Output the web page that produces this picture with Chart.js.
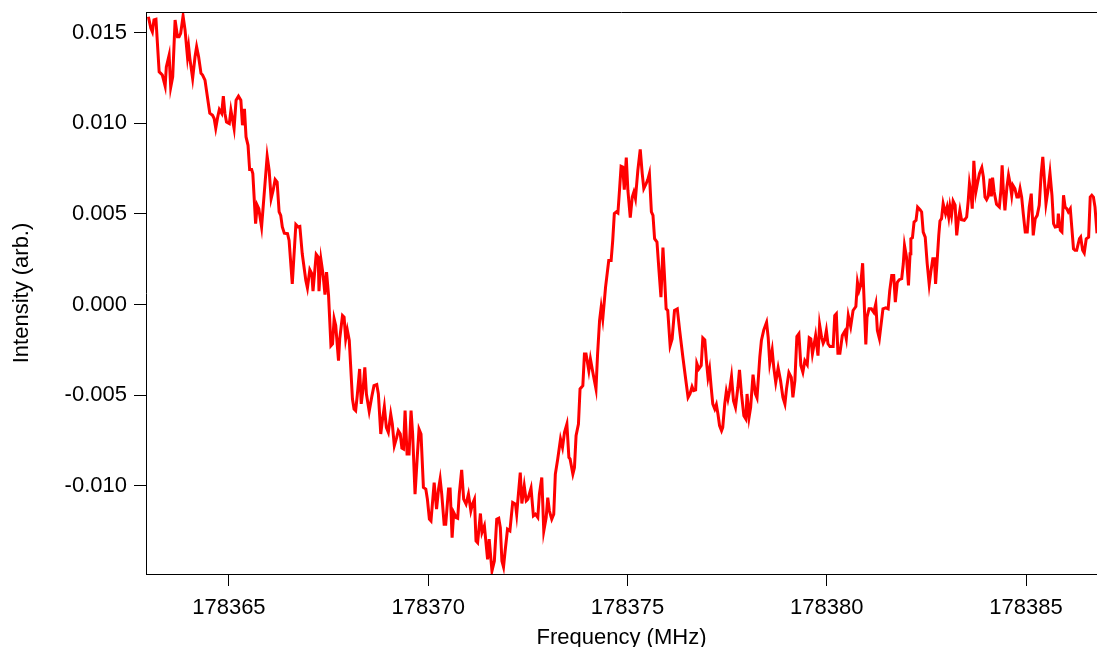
<!DOCTYPE html>
<html>
<head>
<meta charset="utf-8">
<title>Intensity vs Frequency</title>
<script src="https://cdn.jsdelivr.net/npm/chart.js@4.4.1/dist/chart.umd.min.js"></script>
<style>
  html, body { margin: 0; padding: 0; background: #fff; }
  #wrap { width: 1097px; height: 647px; }
</style>
</head>
<body>
<div id="wrap"><canvas id="chart1" width="1097" height="647"></canvas></div>
<script>
// axis ranges and tick labels
const xMin = 178362.92;
const xMax = 178386.78;
const yMin = -0.01488;
const yMax = 0.01615;
const xTicks = [178365, 178370, 178375, 178380, 178385];
const yTicks = [-0.010, -0.005, 0.000, 0.005, 0.010, 0.015];

// frequency (MHz)
const freq = [
  178362.98, 178363.04, 178363.08, 178363.12, 178363.17, 178363.25, 178363.29, 178363.33, 178363.40, 178363.43,
  178363.50, 178363.54, 178363.59, 178363.65, 178363.71, 178363.75, 178363.79, 178363.85, 178363.90, 178363.96,
  178363.99, 178364.02, 178364.09, 178364.15, 178364.19, 178364.24, 178364.30, 178364.34, 178364.40, 178364.46,
  178364.52, 178364.59, 178364.63, 178364.67, 178364.72, 178364.76, 178364.82, 178364.86, 178364.90, 178364.94,
  178365.01, 178365.05, 178365.13, 178365.18, 178365.24, 178365.30, 178365.34, 178365.39, 178365.43, 178365.48,
  178365.52, 178365.57, 178365.60, 178365.67, 178365.71, 178365.75, 178365.82, 178365.96, 178366.01, 178366.06,
  178366.11, 178366.16, 178366.21, 178366.26, 178366.30, 178366.34, 178366.39, 178366.47, 178366.51, 178366.59,
  178366.68, 178366.74, 178366.78, 178366.84, 178366.93, 178366.97, 178367.03, 178367.08, 178367.11, 178367.19,
  178367.24, 178367.26, 178367.31, 178367.36, 178367.41, 178367.45, 178367.50, 178367.56, 178367.60, 178367.64,
  178367.68, 178367.75, 178367.78, 178367.85, 178367.89, 178367.93, 178367.97, 178368.02, 178368.10, 178368.14,
  178368.18, 178368.22, 178368.28, 178368.32, 178368.37, 178368.41, 178368.45, 178368.52, 178368.59, 178368.64,
  178368.71, 178368.75, 178368.81, 178368.85, 178368.90, 178368.95, 178369.00, 178369.06, 178369.10, 178369.15,
  178369.21, 178369.25, 178369.30, 178369.34, 178369.38, 178369.42, 178369.47, 178369.52, 178369.57, 178369.61,
  178369.67, 178369.73, 178369.77, 178369.82, 178369.88, 178369.94, 178369.98, 178370.03, 178370.07, 178370.15,
  178370.21, 178370.26, 178370.30, 178370.34, 178370.40, 178370.44, 178370.51, 178370.55, 178370.60, 178370.64,
  178370.70, 178370.74, 178370.78, 178370.84, 178370.89, 178370.95, 178371.01, 178371.07, 178371.11, 178371.16,
  178371.20, 178371.24, 178371.31, 178371.35, 178371.41, 178371.49, 178371.53, 178371.60, 178371.66, 178371.72,
  178371.77, 178371.81, 178371.85, 178371.89, 178371.93, 178371.99, 178372.05, 178372.12, 178372.19, 178372.22,
  178372.27, 178372.31, 178372.35, 178372.41, 178372.46, 178372.50, 178372.58, 178372.64, 178372.69, 178372.75,
  178372.79, 178372.85, 178372.90, 178372.96, 178373.00, 178373.04, 178373.10, 178373.15, 178373.19, 178373.25,
  178373.32, 178373.37, 178373.42, 178373.48, 178373.53, 178373.56, 178373.63, 178373.67, 178373.71, 178373.77,
  178373.81, 178373.88, 178373.92, 178373.96, 178374.03, 178374.07, 178374.13, 178374.21, 178374.25, 178374.30,
  178374.34, 178374.38, 178374.45, 178374.48, 178374.53, 178374.59, 178374.63, 178374.67, 178374.72, 178374.76,
  178374.80, 178374.84, 178374.88, 178374.92, 178374.97, 178375.01, 178375.07, 178375.12, 178375.16, 178375.20,
  178375.26, 178375.32, 178375.37, 178375.41, 178375.47, 178375.51, 178375.55, 178375.60, 178375.64, 178375.68,
  178375.74, 178375.79, 178375.84, 178375.89, 178375.93, 178375.97, 178376.01, 178376.07, 178376.12, 178376.18,
  178376.25, 178376.31, 178376.39, 178376.46, 178376.52, 178376.57, 178376.62, 178376.66, 178376.71, 178376.74,
  178376.79, 178376.85, 178376.89, 178376.94, 178376.98, 178377.02, 178377.06, 178377.10, 178377.14, 178377.19,
  178377.23, 178377.27, 178377.31, 178377.36, 178377.39, 178377.44, 178377.48, 178377.52, 178377.56, 178377.61,
  178377.66, 178377.71, 178377.77, 178377.81, 178377.86, 178377.92, 178377.97, 178378.00, 178378.05, 178378.09,
  178378.15, 178378.21, 178378.25, 178378.32, 178378.36, 178378.42, 178378.49, 178378.53, 178378.57, 178378.63,
  178378.67, 178378.72, 178378.78, 178378.84, 178378.90, 178378.95, 178378.99, 178379.05, 178379.11, 178379.15,
  178379.20, 178379.25, 178379.30, 178379.35, 178379.40, 178379.45, 178379.51, 178379.56, 178379.60, 178379.64,
  178379.67, 178379.72, 178379.78, 178379.82, 178379.87, 178379.91, 178379.95, 178379.99, 178380.03, 178380.08,
  178380.16, 178380.20, 178380.24, 178380.28, 178380.33, 178380.39, 178380.45, 178380.49, 178380.54, 178380.60,
  178380.66, 178380.73, 178380.77, 178380.81, 178380.85, 178380.90, 178380.93, 178380.98, 178381.01, 178381.06,
  178381.12, 178381.18, 178381.23, 178381.27, 178381.32, 178381.41, 178381.48, 178381.54, 178381.58, 178381.63,
  178381.68, 178381.72, 178381.77, 178381.82, 178381.88, 178381.92, 178381.95, 178382.00, 178382.05, 178382.09,
  178382.11, 178382.15, 178382.19, 178382.24, 178382.28, 178382.34, 178382.38, 178382.42, 178382.47, 178382.52,
  178382.57, 178382.61, 178382.66, 178382.70, 178382.73, 178382.77, 178382.81, 178382.84, 178382.88, 178382.92,
  178382.98, 178383.02, 178383.06, 178383.09, 178383.13, 178383.17, 178383.22, 178383.26, 178383.30, 178383.34,
  178383.38, 178383.45, 178383.51, 178383.55, 178383.58, 178383.62, 178383.65, 178383.69, 178383.74, 178383.78,
  178383.83, 178383.89, 178383.93, 178383.97, 178384.01, 178384.05, 178384.10, 178384.13, 178384.16, 178384.20,
  178384.26, 178384.33, 178384.37, 178384.40, 178384.43, 178384.47, 178384.52, 178384.56, 178384.60, 178384.64,
  178384.67, 178384.72, 178384.77, 178384.81, 178384.85, 178384.89, 178384.93, 178384.98, 178385.03, 178385.08,
  178385.13, 178385.16, 178385.18, 178385.23, 178385.28, 178385.33, 178385.38, 178385.42, 178385.45, 178385.50,
  178385.55, 178385.60, 178385.65, 178385.69, 178385.73, 178385.79, 178385.81, 178385.86, 178385.90, 178385.94,
  178385.98, 178386.02, 178386.06, 178386.11, 178386.15, 178386.19, 178386.23, 178386.27, 178386.34, 178386.37,
  178386.42, 178386.46, 178386.51, 178386.57, 178386.61, 178386.65, 178386.69, 178386.73, 178386.78
];

// intensity (arb.), same order as freq
const intensity = [
  0.01589, 0.01527, 0.01506, 0.01571, 0.01575, 0.01285, 0.01276, 0.01267, 0.01206, 0.01312,
  0.01377, 0.01199, 0.01257, 0.01571, 0.01478, 0.01478, 0.01497, 0.01593, 0.01515, 0.01368,
  0.01423, 0.01359, 0.01248, 0.01368, 0.01423, 0.01368, 0.01276, 0.01267, 0.01239, 0.01147,
  0.01056, 0.01045, 0.01027, 0.00973, 0.01036, 0.01077, 0.01055, 0.01150, 0.01055, 0.01008,
  0.00999, 0.01073, 0.00972, 0.01128, 0.01150, 0.01128, 0.00990, 0.01080, 0.00925, 0.00879,
  0.00745, 0.00745, 0.00723, 0.00446, 0.00548, 0.00529, 0.00428, 0.00819, 0.00741, 0.00585,
  0.00631, 0.00690, 0.00676, 0.00511, 0.00492, 0.00428, 0.00394, 0.00391, 0.00354, 0.00114,
  0.00442, 0.00428, 0.00431, 0.00280, 0.00133, 0.00092, 0.00192, 0.00170, 0.00074, 0.00277,
  0.00262, 0.00074, 0.00247, 0.00170, 0.00055, 0.00179, 0.00050, -0.00227, -0.00217, -0.00079,
  -0.00116, -0.00310, -0.00190, -0.00061, -0.00070, -0.00190, -0.00140, -0.00199, -0.00522, -0.00577,
  -0.00586, -0.00503, -0.00356, -0.00549, -0.00457, -0.00347, -0.00494, -0.00590, -0.00503, -0.00448,
  -0.00442, -0.00494, -0.00715, -0.00642, -0.00564, -0.00679, -0.00706, -0.00605, -0.00660, -0.00780,
  -0.00734, -0.00697, -0.00715, -0.00793, -0.00798, -0.00586, -0.00826, -0.00826, -0.00586, -0.00715,
  -0.01047, -0.00826, -0.00688, -0.00715, -0.01010, -0.01019, -0.01075, -0.01185, -0.01195, -0.00983,
  -0.01130, -0.01019, -0.00964, -0.01047, -0.01213, -0.01213, -0.01019, -0.01019, -0.01287, -0.01149,
  -0.01176, -0.01180, -0.01047, -0.00913, -0.01075, -0.01102, -0.01047, -0.01139, -0.01102, -0.01075,
  -0.01305, -0.01315, -0.01154, -0.01259, -0.01222, -0.01407, -0.01296, -0.01471, -0.01416, -0.01185,
  -0.01180, -0.01232, -0.01416, -0.01449, -0.01361, -0.01241, -0.01250, -0.01093, -0.01102, -0.01158,
  -0.01029, -0.00928, -0.01099, -0.01001, -0.01084, -0.01075, -0.01014, -0.01167, -0.01158, -0.01176,
  -0.01047, -0.00955, -0.01250, -0.01176, -0.01066, -0.01139, -0.01185, -0.01158, -0.00936, -0.00853,
  -0.00743, -0.00789, -0.00706, -0.00660, -0.00845, -0.00853, -0.00936, -0.00900, -0.00725, -0.00660,
  -0.00466, -0.00448, -0.00273, -0.00273, -0.00365, -0.00300, -0.00374, -0.00466, -0.00273, -0.00088,
  -0.00015, -0.00079, 0.00096, 0.00151, 0.00243, 0.00243, 0.00354, 0.00502, 0.00511, 0.00505,
  0.00631, 0.00763, 0.00759, 0.00634, 0.00811, 0.00631, 0.00480, 0.00593, 0.00621, 0.00585,
  0.00741, 0.00856, 0.00723, 0.00640, 0.00668, 0.00690, 0.00723, 0.00511, 0.00492, 0.00363,
  0.00345, 0.00188, 0.00040, 0.00314, 0.00151, -0.00024, -0.00033, -0.00227, -0.00190, -0.00033,
  -0.00024, -0.00144, -0.00291, -0.00411, -0.00513, -0.00492, -0.00454, -0.00476, -0.00472, -0.00325,
  -0.00356, -0.00337, -0.00184, -0.00195, -0.00310, -0.00402, -0.00356, -0.00457, -0.00549, -0.00577,
  -0.00553, -0.00605, -0.00669, -0.00697, -0.00679, -0.00549, -0.00480, -0.00522, -0.00476, -0.00398,
  -0.00531, -0.00568, -0.00457, -0.00361, -0.00494, -0.00614, -0.00632, -0.00494, -0.00623, -0.00568,
  -0.00387, -0.00494, -0.00516, -0.00291, -0.00199, -0.00140, -0.00098, -0.00181, -0.00325, -0.00251,
  -0.00347, -0.00430, -0.00350, -0.00420, -0.00513, -0.00549, -0.00466, -0.00376, -0.00402, -0.00513,
  -0.00420, -0.00177, -0.00162, -0.00337, -0.00374, -0.00310, -0.00332, -0.00184, -0.00190, -0.00273,
  -0.00236, -0.00171, -0.00282, -0.00111, -0.00181, -0.00214, -0.00195, -0.00144, -0.00217, -0.00232,
  -0.00232, -0.00061, -0.00051, -0.00269, -0.00269, -0.00171, -0.00148, -0.00190, -0.00061, -0.00122,
  -0.00033, -0.00011, 0.00123, 0.00077, 0.00105, 0.00228, 0.00059, -0.00221, -0.00070, -0.00024,
  -0.00024, -0.00043, 0.00004, -0.00144, -0.00188, -0.00024, -0.00018, -0.00024, 0.00077, 0.00160,
  0.00160, 0.00013, 0.00123, 0.00137, 0.00142, 0.00225, 0.00326, 0.00262, 0.00105, 0.00280,
  0.00363, 0.00369, 0.00455, 0.00465, 0.00538, 0.00524, 0.00511, 0.00400, 0.00372, 0.00225,
  0.00111, 0.00179, 0.00253, 0.00253, 0.00114, 0.00243, 0.00382, 0.00461, 0.00474, 0.00557,
  0.00502, 0.00538, 0.00483, 0.00542, 0.00492, 0.00571, 0.00548, 0.00382, 0.00465, 0.00520,
  0.00468, 0.00465, 0.00483, 0.00575, 0.00668, 0.00612, 0.00529, 0.00793, 0.00621, 0.00668,
  0.00723, 0.00756, 0.00704, 0.00593, 0.00579, 0.00597, 0.00695, 0.00597, 0.00701, 0.00621,
  0.00553, 0.00538, 0.00631, 0.00769, 0.00631, 0.00520, 0.00649, 0.00714, 0.00668, 0.00603,
  0.00658, 0.00640, 0.00593, 0.00593, 0.00640, 0.00593, 0.00502, 0.00400, 0.00400, 0.00538,
  0.00612, 0.00483, 0.00382, 0.00474, 0.00492, 0.00548, 0.00723, 0.00815, 0.00723, 0.00557,
  0.00631, 0.00726, 0.00603, 0.00446, 0.00428, 0.00431, 0.00502, 0.00409, 0.00400, 0.00603,
  0.00538, 0.00529, 0.00511, 0.00529, 0.00419, 0.00308, 0.00299, 0.00299, 0.00363, 0.00372,
  0.00299, 0.00284, 0.00363, 0.00372, 0.00593, 0.00603, 0.00593, 0.00538, 0.00393
];

const fontFamily = "'Liberation Sans', Arial, Helvetica, sans-serif";
const axisFont = { family: fontFamily, size: 22 };

// draws the frame line along the top of the plot area
const topFrame = {
  id: "topFrame",
  afterDraw(chart) {
    const { ctx, chartArea } = chart;
    ctx.save();
    ctx.strokeStyle = "#000";
    ctx.lineWidth = 1;
    ctx.beginPath();
    ctx.moveTo(chartArea.left, chartArea.top + 0.5);
    ctx.lineTo(chartArea.right, chartArea.top + 0.5);
    ctx.stroke();
    ctx.restore();
  },
};

const points = freq.map((f, i) => ({ x: f, y: intensity[i] }));

new Chart(document.getElementById("chart1"), {
  type: "line",
  data: {
    datasets: [
      {
        data: points,
        borderColor: "#ff0000",
        borderWidth: 3,
        pointRadius: 0,
        tension: 0,
        fill: false,
      },
    ],
  },
  options: {
    responsive: false,
    animation: false,
    layout: { padding: { top: 12, right: 0, bottom: 0, left: 0 } },
    plugins: { legend: { display: false }, tooltip: { enabled: false } },
    scales: {
      x: {
        type: "linear",
        min: xMin,
        max: xMax,
        afterBuildTicks: (s) => { s.ticks = xTicks.map((v) => ({ value: v })); },
        afterFit: (s) => { s.height = 73; s.paddingLeft = 0; s.paddingRight = 0; },
        grid: { drawOnChartArea: false, tickLength: 12, tickColor: "#000", tickWidth: 1 },
        border: { display: true, color: "#000", width: 1 },
        ticks: { color: "#000", font: axisFont, padding: 9, maxRotation: 0, callback: (v) => String(v) },
        title: { display: true, text: "Frequency (MHz)", color: "#000", font: axisFont, padding: { top: 0, bottom: -4 } },
      },
      y: {
        min: yMin,
        max: yMax,
        afterBuildTicks: (s) => { s.ticks = yTicks.map((v) => ({ value: v })); },
        afterFit: (s) => { s.width = 146; s.paddingTop = 0; s.paddingBottom = 0; },
        grid: { drawOnChartArea: false, tickLength: 12, tickColor: "#000", tickWidth: 1 },
        border: { display: true, color: "#000", width: 1 },
        ticks: { color: "#000", font: axisFont, padding: 7, callback: (v) => v.toFixed(3) },
        title: { display: true, text: "Intensity (arb.)", color: "#000", font: axisFont, padding: { top: 9 } },
      },
    },
  },
  plugins: [topFrame],
});
</script>
</body>
</html>
